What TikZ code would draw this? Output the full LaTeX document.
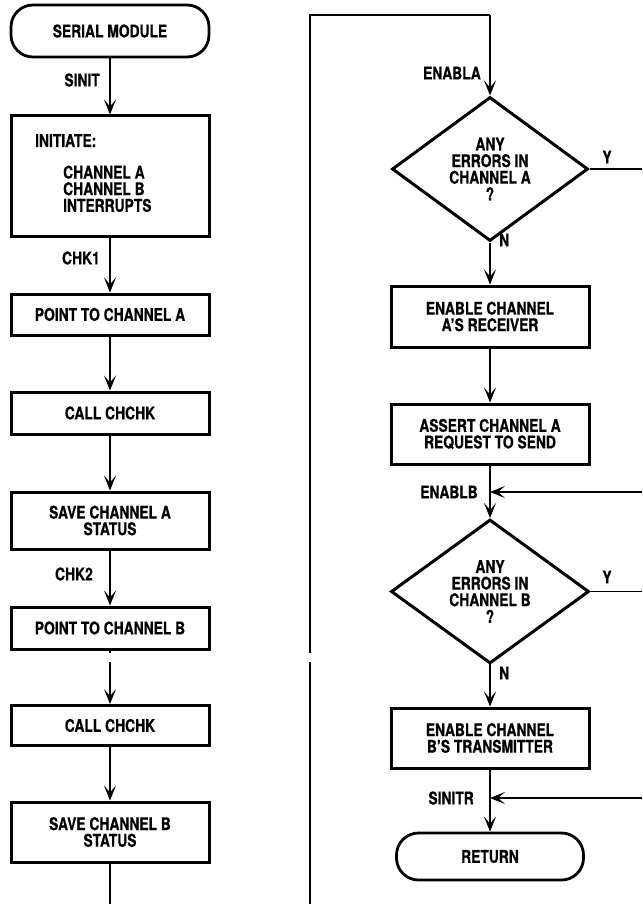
\documentclass[tikz,border=0pt]{standalone}
\usepackage{fontspec}
\setmainfont{TeX Gyre Heros}[FakeStretch=0.79,FakeBold=0.6]
\usetikzlibrary{shapes.geometric,arrows.meta}
\begin{document}
\begin{tikzpicture}[x=1pt,y=-1pt,
  every node/.style={font=\bfseries\fontsize{17.5}{16.6}\selectfont},
  box/.style={draw,line width=3pt,minimum width=198pt,inner sep=0pt,align=center},
  term/.style={draw,line width=2.8pt,rounded corners=22pt,inner sep=0pt},
  dec/.style={draw,diamond,line width=3pt,inner sep=0pt,align=center},
  arr/.style={line width=1.6pt,-{Stealth[length=15pt,width=12pt,inset=7pt]}},
  ln/.style={line width=1.6pt},
  lbl/.style={inner sep=0pt}
]
\useasboundingbox (0,0) rectangle (642,904);

% left column
\node[term, minimum width=198pt, minimum height=52pt] (serial) at (110,31) {SERIAL MODULE};
\node[box, minimum height=120pt] (init) at (110,176) {};
\node[lbl, anchor=north west, align=left] (initT) at (35,134) {INITIATE:\\[15pt]\hspace*{28pt}CHANNEL A\\\hspace*{28pt}CHANNEL B\\\hspace*{28pt}INTERRUPTS};
\node[box, minimum height=41pt] (pta) at (110,314.5) {POINT TO CHANNEL A};
\node[box, minimum height=42pt] (call1) at (110,413) {CALL CHCHK};
\node[box, minimum height=57pt] (sva) at (110,520.5) {SAVE CHANNEL A\\STATUS};
\node[box, minimum height=42pt] (ptb) at (110,628) {POINT TO CHANNEL B};
\node[box, minimum height=40pt] (call2) at (110,725.5) {CALL CHCHK};
\node[box, minimum height=60pt] (svb) at (110,832) {SAVE CHANNEL B\\STATUS};

\node[lbl, anchor=east] (sinit) at (100,80) {SINIT};
\node[lbl, anchor=east] (chk1) at (100,258) {CHK1};
\node[lbl, anchor=east] (chk2) at (93,574) {CHK2};

\draw[arr] (serial) -- (init);
\draw[arr] (init) -- (pta);
\draw[arr] (pta) -- (call1);
\draw[arr] (call1) -- (sva);
\draw[arr] (sva) -- (ptb);
\coordinate (g1) at (110,653);
\coordinate (g2) at (110,662);
\draw[ln] (ptb.south) -- (g1);
\draw[arr] (g2) -- (call2.north);
\draw[arr] (call2) -- (svb);

% loop frame
\coordinate (bl) at (110,904);
\coordinate (br) at (310,904);
\coordinate (fg1) at (310,662);
\coordinate (fg2) at (310,653);
\coordinate (tl) at (310,15);
\coordinate (tr) at (490,15);
\draw[ln] (svb.south) -- (bl);
\draw[ln] (br) -- (fg1);
\draw[ln] (fg2) -- (tl) -- (tr);

% right column
\node[dec, minimum width=196pt, minimum height=118pt] (dA) at (490,169) {ANY\\ERRORS IN\\CHANNEL A\\?};
\node[box, minimum height=61pt] (enA) at (490,316.5) {ENABLE CHANNEL\\A'S RECEIVER};
\node[box, minimum height=60pt] (asA) at (490,434) {ASSERT CHANNEL A\\REQUEST TO SEND};
\node[dec, minimum width=198pt, minimum height=119pt] (dB) at (490,591.5) {ANY\\ERRORS IN\\CHANNEL B\\?};
\node[box, minimum height=60pt] (enB) at (490,738) {ENABLE CHANNEL\\B'S TRANSMITTER};
\node[term, minimum width=187pt, minimum height=47pt] (ret) at (490,856.5) {RETURN};

\node[lbl, anchor=east] (enabla) at (481,73) {ENABLA};
\node[lbl] (yA) at (607,157) {Y};
\node[lbl, anchor=west] (nA) at (499,240) {N};
\node[lbl, anchor=east] (enablb) at (478,492) {ENABLB};
\node[lbl] (yB) at (607,577) {Y};
\node[lbl, anchor=west] (nB) at (499,673) {N};
\node[lbl, anchor=east] (sinitr) at (474,798) {SINITR};

\draw[arr] (tr) -- (dA.north);
\coordinate (offA) at (642,169);
\draw[ln] (dA.east) -- (offA);
\draw[arr] (dA.south) -- (enA.north);
\draw[arr] (enA) -- (asA);
\draw[arr] (asA) -- (dB);
\coordinate (jB) at (490,492);
\coordinate (inB) at (642,492);
\draw[arr] (inB) -- (jB);
\coordinate (offB) at (642,591.5);
\draw[ln] (dB.east) -- (offB);
\coordinate (gN) at (490,662);
\draw[arr] (gN) -- (enB.north);
\draw[arr] (enB) -- (ret);
\coordinate (jR) at (490,798);
\coordinate (inR) at (642,798);
\draw[arr] (inR) -- (jR);
\end{tikzpicture}
\end{document}
